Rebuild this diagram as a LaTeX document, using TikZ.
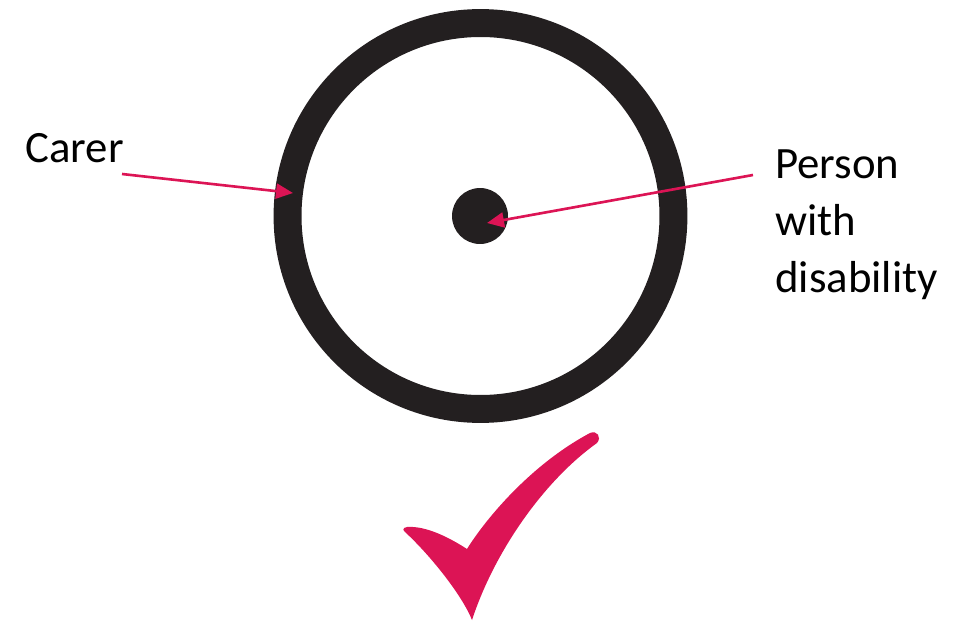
\documentclass[tikz,border=0pt]{standalone}
\usepackage{fontspec}
\setmainfont{Carlito}
\usetikzlibrary{arrows.meta, positioning}
\definecolor{ringblack}{RGB}{35,31,32}
\definecolor{tickred}{RGB}{220,20,85}

\begin{document}
\begin{tikzpicture}[x=0.02cm, y=-0.02cm, >={Triangle[length=0.34cm,width=0.3cm]},
        every node/.style={font=\fontsize{25.5}{32.3}\selectfont, inner sep=0pt},
        ring/.style={circle, draw=ringblack, line width=15.9pt, minimum size=7.72cm},
        dot/.style={circle, fill=ringblack, minimum size=1.12cm},
        pointer/.style={->, draw=tickred, fill=tickred, line width=1.5pt}]
      \useasboundingbox (0,0) rectangle (974,622);
      \node[ring] (carering) at (480.5,216) {};
      \node[dot] (person) at (480,216) {};
      \node[anchor=base west] (carer) at (25,162) {Carer};
      \node[anchor=base west, align=left] (pwd) at (775,292) {Person\\with\\disability};
      \coordinate (carertail) at (122,174);
      \coordinate (carertip) at (293,193);
      \coordinate (pwdtail) at (753,175);
      \coordinate (pwdtip) at (487,223);
      \draw[pointer] (carertail) -- (carertip);
      \draw[pointer] (pwdtail) -- (pwdtip);
      % tick below the ring
      \fill[tickred] (413,527) .. controls (430,528) and (450,538) .. (467,549)
        .. controls (485,520) and (530,465) .. (590,433)
        .. controls (597,430) and (602,437) .. (597,443)
        .. controls (545,480) and (495,550) .. (472,620)
        .. controls (462,595) and (430,555) .. (405,532)
        .. controls (401,529) and (404,526) .. cycle;
    \end{tikzpicture}
\end{document}
